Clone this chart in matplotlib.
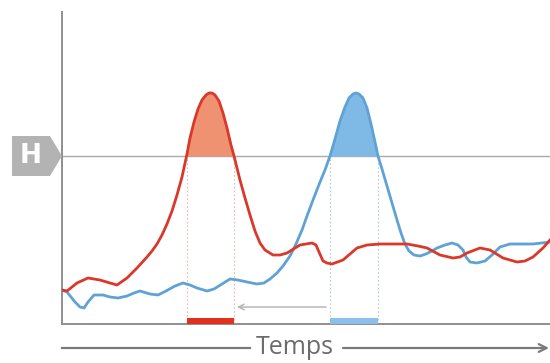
import numpy as np
import matplotlib
matplotlib.use("Agg")
import matplotlib.pyplot as plt
from matplotlib.patches import Polygon, FancyArrowPatch

# Time axis positions and levels of the two signals
red_t = [0, 5, 15, 26, 38, 48, 55, 65, 75, 85, 90, 95, 100, 105, 110, 115, 120, 125,
         128, 132, 136, 140, 144, 147, 150, 153, 157, 161, 165, 169, 172, 175, 178, 183,
         188, 193, 198, 203, 211, 218, 225, 238, 250, 254, 257, 261, 265, 270, 281, 288,
         295, 305, 318, 345, 356, 365, 378, 391, 398, 405, 418, 428, 441, 455, 463, 471,
         481, 488]
red_v = [34, 33, 41, 46, 44, 41, 39, 46, 56, 67, 73, 80, 89, 100, 113, 129, 147, 170,
         186, 202, 215, 224, 229, 231, 231, 229, 223, 211, 196, 179, 168, 156, 144, 126,
         109, 93, 81, 74, 69, 69, 71, 79, 81, 79, 72, 63, 61, 60, 64, 70,
         76, 79, 80, 80, 78, 76, 69, 66, 67, 71, 76, 74, 66, 62, 63, 67,
         76, 84]

blue_t = [0, 5, 13, 18, 22, 26, 32, 41, 48, 56, 65, 72, 78, 88, 96, 104, 113, 121,
          128, 135, 145, 152, 160, 168, 176, 185, 195, 202, 208, 215, 221, 228, 234, 240,
          245, 251, 258, 263, 268, 273, 278, 283, 287, 291, 294, 297, 301, 305, 309, 313,
          316, 320, 325, 330, 335, 339, 343, 347, 352, 358, 364, 370, 375, 383, 390, 396,
          401, 404, 408, 415, 423, 430, 438, 448, 471, 488]
blue_v = [34, 32, 22, 17, 16, 22, 29, 29, 27, 26, 28, 31, 33, 30, 29, 33, 38, 41,
          39, 36, 33, 35, 40, 45, 44, 42, 40, 41, 45, 51, 58, 68, 80, 94,
          108, 124, 142, 154, 168, 185, 203, 217, 226, 230, 231, 230, 226, 216, 200, 182,
          168, 155, 138, 121, 104, 91, 80, 73, 69, 68, 70, 73, 76, 79, 81, 79,
          74, 67, 62, 61, 63, 69, 77, 80, 80, 82]

threshold = 168          # level H
axis_label = "Temps"
badge_label = "H"

RED = "#d9382a"
RED_FILL = "#ee9272"
RED_BAR = "#e0301e"
BLUE = "#5ea2d6"
BLUE_FILL = "#7fbae6"
BLUE_BAR = "#8cc0ea"


def crossings(t, v, level):
    """Return the times where the series crosses the level (linear between points)."""
    t = np.asarray(t, float)
    v = np.asarray(v, float) - level
    out = []
    for i in range(len(v) - 1):
        if v[i] == 0:
            out.append(t[i])
        elif v[i] * v[i + 1] < 0:
            out.append(t[i] - v[i] * (t[i + 1] - t[i]) / (v[i + 1] - v[i]))
    return out


fig = plt.figure(figsize=(5.5, 3.63), dpi=100)
ax = fig.add_axes([62 / 550, 39 / 363, 488 / 550, 312 / 363])
ax.set_xlim(0, 488)
ax.set_ylim(0, 312)
ax.set_xticks([])
ax.set_yticks([])
for side in ("top", "right"):
    ax.spines[side].set_visible(False)
for side in ("left", "bottom"):
    ax.spines[side].set_color("#8f8f8f")
    ax.spines[side].set_linewidth(1.4)

# threshold line
ax.axhline(threshold, color="#aaaaaa", lw=1.0, zorder=1)

# shaded parts above the threshold
rt, rv = np.array(red_t, float), np.array(red_v, float)
bt, bv = np.array(blue_t, float), np.array(blue_v, float)
ax.fill_between(rt, threshold, rv, where=rv >= threshold, interpolate=True,
                color=RED_FILL, lw=0, zorder=2)
ax.fill_between(bt, threshold, bv, where=bv >= threshold, interpolate=True,
                color=BLUE_FILL, lw=0, zorder=2)

# curves
ax.plot(bt, bv, color=BLUE, lw=2.0, zorder=3, solid_joinstyle="round")
ax.plot(rt, rv, color=RED, lw=2.0, zorder=4, solid_joinstyle="round")

# duration markers on the time axis
r0, r1 = crossings(red_t, red_v, threshold)[:2]
b0, b1 = crossings(blue_t, blue_v, threshold)[:2]
for x in (r0, r1):
    ax.plot([x, x], [0, threshold], color="#f2b4aa", lw=0.8, ls=(0, (1.5, 2)), zorder=1)
for x in (b0, b1):
    ax.plot([x, x], [0, threshold], color="#b4c8dc", lw=0.8, ls=(0, (1.5, 2)), zorder=1)
ax.fill_between([r0, r1], 0, 6, color=RED_BAR, lw=0, zorder=5, clip_on=False)
ax.fill_between([b0, b1], 0, 6, color=BLUE_BAR, lw=0, zorder=5, clip_on=False)

# shift arrow between the two durations
ax.annotate("", xy=(r1 + 3, 17), xytext=(b0 - 4, 17),
            arrowprops=dict(arrowstyle="->", color="#b0b0b0", lw=1.0,
                            mutation_scale=10, shrinkA=0, shrinkB=0))

# "H" badge on the threshold
badge = Polygon([(-50, 148), (-12, 148), (0, threshold), (-12, 188), (-50, 188)],
                closed=True, facecolor="#b3b3b3", edgecolor="none",
                clip_on=False, zorder=6)
ax.add_patch(badge)
ax.text(-31, threshold, badge_label, color="white", fontsize=19, fontweight="bold",
        ha="center", va="center", family="DejaVu Sans", clip_on=False, zorder=7)

# time axis caption with arrow
y_cap = -24
ax.plot([0, 188], [y_cap, y_cap], color="#7a7a7a", lw=1.6, clip_on=False)
ax.text(233, y_cap, axis_label, color="#6b6b6b", fontsize=18, family="Open Sans",
        ha="center", va="center", clip_on=False)
ax.add_patch(FancyArrowPatch((281, y_cap), (487, y_cap), arrowstyle="->",
                             mutation_scale=14, color="#7a7a7a", lw=1.6,
                             clip_on=False, shrinkA=0, shrinkB=0))

fig.savefig("out.png", dpi=100)
